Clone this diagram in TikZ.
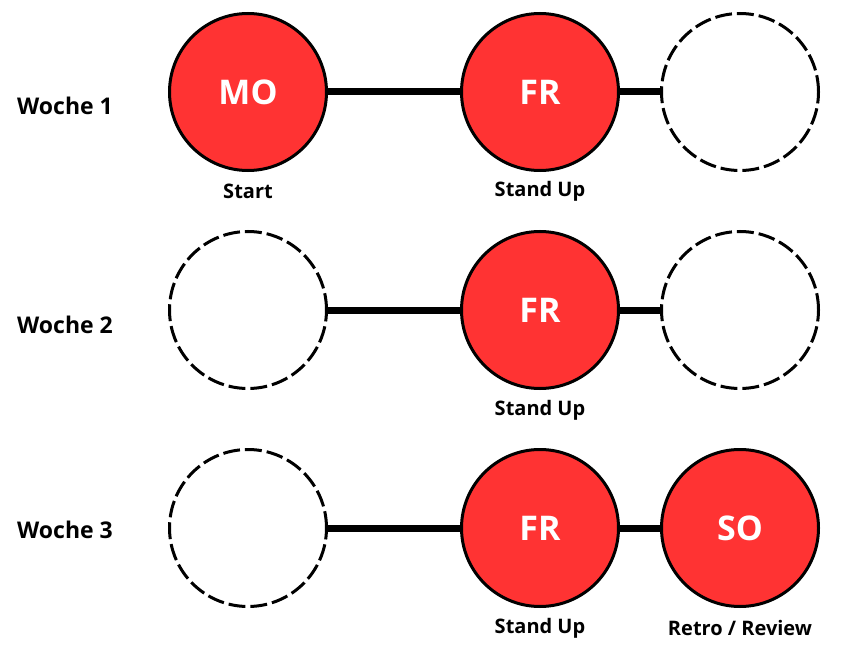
\documentclass[tikz,border=0pt]{standalone}
\usepackage{fontspec}
\setmainfont{Open Sans}
\definecolor{dayred}{HTML}{FF3333}
\tikzset{
  day/.style={circle, draw=black, line width=3pt, fill=dayred, minimum size=157pt, inner sep=0pt,
    text=white, font=\fontsize{34}{38}\selectfont\bfseries},
  freeday/.style={circle, draw=black, line width=3pt, dash pattern=on 16.9pt off 5pt, minimum size=157pt, inner sep=0pt},
  link/.style={line width=7pt, black},
  week/.style={font=\fontsize{23}{27}\selectfont\bfseries, anchor=west, inner sep=0pt},
  caption/.style={font=\fontsize{20}{24}\selectfont\bfseries, inner sep=0pt}
}
\begin{document}
\begin{tikzpicture}[x=1pt,y=1pt]
\useasboundingbox (0,0) rectangle (860,-650);
% Week 1
\node[week] (w1) at (17,-106) {Woche 1};
\node[day] (a1) at (248,-92) {MO};
\node[day] (b1) at (540,-92) {FR};
\node[freeday] (c1) at (740,-92) {};
\draw[link] (a1) -- (b1);
\draw[link] (b1) -- (c1);
\node[caption] (la1) at (248,-191) {Start};
\node[caption] (lb1) at (540,-191) {Stand Up};
% Week 2
\node[week] (w2) at (17,-324.5) {Woche 2};
\node[freeday] (a2) at (248,-310) {};
\node[day] (b2) at (540,-310) {FR};
\node[freeday] (c2) at (740,-310) {};
\draw[link] (a2) -- (b2);
\draw[link] (b2) -- (c2);
\node[caption] (lb2) at (540,-410) {Stand Up};
% Week 3
\node[week] (w3) at (17,-529.5) {Woche 3};
\node[freeday] (a3) at (248,-528) {};
\node[day] (b3) at (540,-528) {FR};
\node[day] (c3) at (740,-528) {SO};
\draw[link] (a3) -- (b3);
\draw[link] (b3) -- (c3);
\node[caption] (lb3) at (540,-628) {Stand Up};
\node[caption] (lc3) at (740,-628) {Retro / Review};
\end{tikzpicture}
\end{document}
